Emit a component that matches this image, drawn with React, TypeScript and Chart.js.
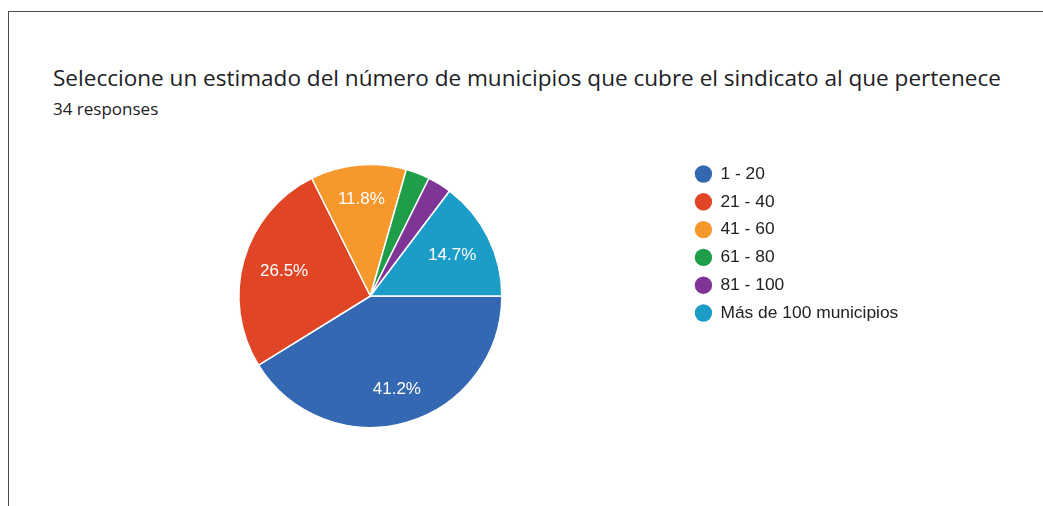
import React, { useEffect, useRef } from "react";
import { Chart, registerables } from "chart.js";

Chart.register(...registerables);

const titleText = "Seleccione un estimado del número de municipios que cubre el sindicato al que pertenece";
const subtitleText = "34 responses";
const categories = ["1 - 20", "21 - 40", "41 - 60", "61 - 80", "81 - 100", "Más de 100 municipios"];
const responses = [14, 9, 4, 1, 1, 5];
const sliceColors = ["#3468b3", "#e04526", "#f7982d", "#1f9e49", "#7f3596", "#1b9dc8"];

const labelFont = '"Liberation Sans", Arial, sans-serif';

const percentLabels = {
  id: "percentLabels",
  afterDatasetsDraw(chart: any) {
    const ctx = chart.ctx;
    const meta = chart.getDatasetMeta(0);
    const values: number[] = chart.data.datasets[0].data;
    const total = values.reduce((a, b) => a + b, 0);
    ctx.save();
    ctx.fillStyle = "#ffffff";
    ctx.font = `17px ${labelFont}`;
    ctx.textAlign = "center";
    ctx.textBaseline = "middle";
    meta.data.forEach((arc: any, i: number) => {
      const pct = (values[i] / total) * 100;
      if (pct < 5) return;
      const { x, y, startAngle, endAngle, outerRadius } = arc.getProps(
        ["x", "y", "startAngle", "endAngle", "outerRadius"],
        true
      );
      const mid = (startAngle + endAngle) / 2;
      const d = outerRadius * (0.66 + 0.08 * Math.abs(Math.sin(mid)));
      ctx.fillText(pct.toFixed(1) + "%", x + Math.cos(mid) * d, y + Math.sin(mid) * d);
    });
    ctx.restore();
  },
};

function PieChart() {
  const ref = useRef<HTMLCanvasElement | null>(null);
  useEffect(() => {
    if (!ref.current) return;
    const chart = new Chart(ref.current, {
      type: "pie",
      data: {
        labels: categories,
        datasets: [
          {
            data: responses,
            backgroundColor: sliceColors,
            borderColor: "#ffffff",
            borderWidth: 1.5,
            radius: 131.5,
          } as any,
        ],
      },
      options: {
        animation: false,
        responsive: false,
        devicePixelRatio: 1,
        rotation: 90,
        layout: { padding: { left: 56, right: 134.7, top: 154.9, bottom: 68.9 } },
        plugins: {
          tooltip: { enabled: false },
          legend: {
            position: "right",
            align: "start",
            labels: {
              usePointStyle: true,
              pointStyle: "circle",
              boxWidth: 16.6,
              boxHeight: 12.3,
              padding: 10.4,
              color: "#222222",
              font: { size: 17.4, family: labelFont },
              generateLabels: (c: any) => {
                const items = Chart.overrides.pie.plugins.legend.labels.generateLabels(c);
                return items.map((it: any) => ({ ...it, lineWidth: 0, strokeStyle: "rgba(0,0,0,0)" }));
              },
            },
          },
        },
      },
      plugins: [percentLabels],
    });
    return () => chart.destroy();
  }, []);
  return (
    <canvas
      ref={ref}
      width={1043}
      height={506}
      style={{ position: "absolute", left: 0, top: 0, width: 1043, height: 506 }}
    />
  );
}

export default function App() {
  return (
    <div
      style={{
        position: "fixed",
        left: 0,
        top: 0,
        width: 1043,
        height: 506,
        background: "#ffffff",
        overflow: "hidden",
      }}
    >
      <div
        style={{
          position: "absolute",
          left: 8,
          top: 11,
          width: 1200,
          height: 700,
          borderTop: "1.6px solid #4a4a4a",
          borderLeft: "1.6px solid #4a4a4a",
        }}
      />
      <div
        style={{
          position: "absolute",
          left: 53,
          top: 66.7,
          fontFamily: '"Open Sans", sans-serif',
          fontSize: 22.55,
          lineHeight: "22.55px",
          color: "#202124",
          whiteSpace: "nowrap",
        }}
      >
        {titleText}
      </div>
      <div
        style={{
          position: "absolute",
          left: 53,
          top: 99.9,
          fontFamily: '"Open Sans", sans-serif',
          fontSize: 17,
          lineHeight: "17px",
          color: "#202124",
          whiteSpace: "nowrap",
        }}
      >
        {subtitleText}
      </div>
      <PieChart />
    </div>
  );
}
